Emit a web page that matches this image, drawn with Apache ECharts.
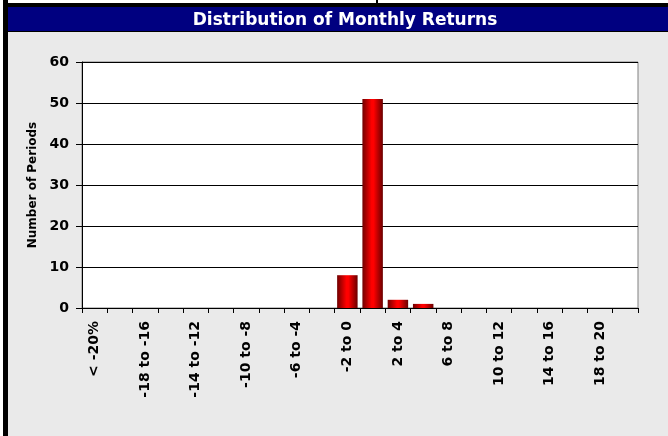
<!DOCTYPE html>
<html>
<head>
<meta charset="utf-8">
<script src="https://cdn.jsdelivr.net/npm/echarts@6/dist/echarts.min.js"></script>
<style>
html,body{margin:0;padding:0;background:#fff;}
#c{width:668px;height:436px;}
</style>
</head>
<body>
<div id="c"></div>
<script>
const chartTitle = 'Distribution of Monthly Returns';
const yAxisName = 'Number of Periods';
const categories = ['< -20%', '-20 to -18', '-18 to -16', '-16 to -14', '-14 to -12', '-12 to -10',
  '-10 to -8', '-8 to -6', '-6 to -4', '-4 to -2', '-2 to 0', '0 to 2', '2 to 4', '4 to 6',
  '6 to 8', '8 to 10', '10 to 12', '12 to 14', '14 to 16', '16 to 18', '18 to 20', '> 20%'];
const periods = [0, 0, 0, 0, 0, 0, 0, 0, 0, 0, 8, 51, 2, 1, 0, 0, 0, 0, 0, 0, 0, 0];
const yTicks = [0, 10, 20, 30, 40, 50, 60];

const chart = echarts.init(document.getElementById('c'), null, {renderer: 'canvas'});
const font = 'DejaVu Sans';
chart.setOption({
  backgroundColor: '#EAEAEA',
  animation: false,
  title: {
    text: chartTitle,
    left: 340, top: 7, textAlign: 'center',
    textStyle: {color: '#fff', fontFamily: font, fontWeight: 'bold', fontSize: 17}
  },
  graphic: [
    {type: 'rect', shape: {x: 0, y: 0, width: 668, height: 3}, style: {fill: '#fff'}, z: -1},
    {type: 'rect', shape: {x: 376, y: 0, width: 2, height: 4}, style: {fill: '#000'}, z: -1},
    {type: 'rect', shape: {x: 0, y: 3, width: 668, height: 4}, style: {fill: '#000'}, z: -1},
    {type: 'rect', shape: {x: 0, y: 7, width: 668, height: 24}, style: {fill: '#000080'}, z: -1},
    {type: 'rect', shape: {x: 0, y: 31, width: 668, height: 1}, style: {fill: '#000'}, z: -1},
    {type: 'rect', shape: {x: 0, y: 0, width: 3, height: 436}, style: {fill: '#fff'}, z: 0},
    {type: 'rect', shape: {x: 3, y: 0, width: 5, height: 436}, style: {fill: '#000'}, z: 0}
  ],
  grid: {
    left: 82, right: 30, top: 62, bottom: 128,
    show: true, backgroundColor: '#fff', borderColor: '#808080', borderWidth: 1
  },
  xAxis: {
    type: 'category',
    data: categories,
    axisLine: {lineStyle: {color: '#000', width: 1}},
    axisTick: {show: true, alignWithLabel: false, interval: 0, length: 5, lineStyle: {color: '#000'}},
    axisLabel: {
      interval: 1, rotate: 90, margin: 13,
      color: '#000', fontFamily: font, fontWeight: 'bold', fontSize: 14
    }
  },
  yAxis: {
    type: 'value',
    min: yTicks[0], max: yTicks[yTicks.length - 1], interval: 10,
    name: yAxisName, nameLocation: 'middle', nameGap: 42, nameRotate: 90,
    nameTextStyle: {color: '#000', fontFamily: font, fontWeight: 'bold', fontSize: 12},
    axisLine: {show: true, lineStyle: {color: '#000', width: 1}},
    axisTick: {show: true, length: 6, lineStyle: {color: '#000'}},
    axisLabel: {margin: 13, color: '#000', fontFamily: font, fontWeight: 'bold', fontSize: 14},
    splitLine: {show: true, lineStyle: {color: '#000', width: 1}}
  },
  series: [{
    type: 'bar',
    data: periods,
    barCategoryGap: '19%',
    itemStyle: {
      color: new echarts.graphic.LinearGradient(0, 0, 1, 0, [
        {offset: 0, color: '#700000'},
        {offset: 0.45, color: '#ff0000'},
        {offset: 0.55, color: '#ff0000'},
        {offset: 1, color: '#6a0000'}
      ])
    }
  }]
});
</script>
</body>
</html>
